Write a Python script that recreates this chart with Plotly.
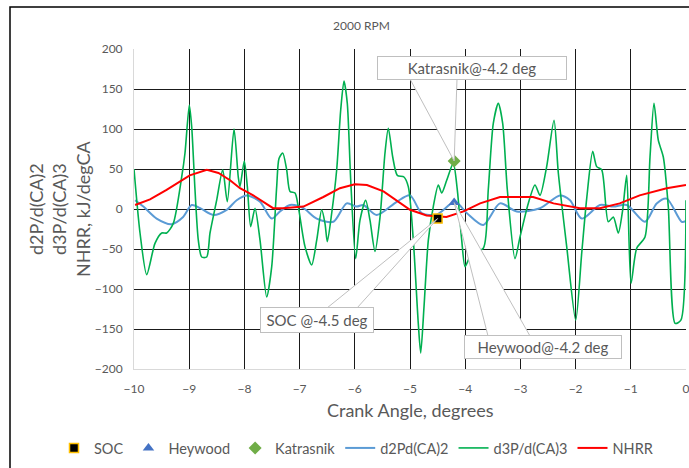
import plotly.graph_objects as go

# ---------------- data ----------------
GREEN_X = [-10.0, -9.891, -9.77, -9.62, -9.498, -9.408, -9.288, -9.136, -9.076, -8.998, -8.955,
           -8.895, -8.835, -8.774, -8.683, -8.623, -8.502, -8.393, -8.31, -8.188, -8.111, -8.08,
           -8.002, -7.947, -7.886, -7.808, -7.717, -7.596, -7.505, -7.415, -7.373, -7.306, -7.234,
           -7.174, -7.083, -7.024, -6.902, -6.781, -6.69, -6.6, -6.54, -6.498, -6.418, -6.328,
           -6.255, -6.196, -6.136, -6.074, -5.984, -5.906, -5.803, -5.725, -5.634, -5.543, -5.453,
           -5.393, -5.313, -5.23, -5.109, -5.031, -4.94, -4.85, -4.806, -4.746, -4.668, -4.578,
           -4.487, -4.426, -4.335, -4.216, -4.143, -4.063, -4.004, -3.944, -3.882, -3.672, -3.582,
           -3.491, -3.4, -3.321, -3.237, -3.098, -3.007, -2.857, -2.736, -2.645, -2.524, -2.391,
           -2.313, -2.161, -1.998, -1.889, -1.799, -1.69, -1.618, -1.527, -1.408, -1.317, -1.226,
           -1.147, -1.074, -0.996, -0.893, -0.743, -0.652, -0.58, -0.502, -0.411, -0.321, -0.196,
           -0.093, 0.0]
GREEN_Y = [50, -30, -82, -43, -30, -30, -18, 40, 70, 130, 103,
           24, -39, -60, -60, -30, 11, 49, 9, 100, 40, 28,
           60, 28, -22, 1, -39, -110, -72, 28, 63, 70, 49,
           22, 20, 3, -47, -70, -39, -1, -18, -41, -5, 49,
           124, 160, 132, 36, -62, -14, 11, -14, -53, -10, 70,
           101, 65, 42, 40, 28, -39, -143, -180, -122, -39, 3,
           30, 20, 36, 57, 24, -39, -72, -64, -55, -49, 24,
           107, 132, 107, 24, -62, -35, 7, 30, 17, 53, 111,
           45, -47, -139, -55, 13, 72, 53, 49, -16, -10, -30,
           -1, 42, -93, -49, -35, 65, 132, 86, 65, 3, -143,
           -139, 11]

BLUE_X = [-9.98, -9.83, -9.59, -9.32, -9.11, -8.955, -8.8, -8.563, -8.321, -8.14, -7.958, -7.717,
          -7.505, -7.355, -7.174, -6.933, -6.69, -6.389, -6.147, -5.966, -5.846, -5.603, -5.241,
          -5.0, -4.788, -4.516, -4.185, -3.973, -3.672, -3.37, -3.067, -2.645, -2.283, -2.101,
          -1.889, -1.558, -1.317, -1.074, -0.743, -0.531, -0.35, -0.078, 0.0]
BLUE_Y = [11, 3, -12, -19, -10, 5, 1, -7.5, -1, 11, 17, 9,
          -12, -3, 5, 1, -12, -16, 7, 3, 5, -7.5, 9,
          17, -5, -7, 9, -5, -20, 7, -3, 1, 17, 11,
          -12, 5, 3, 5, -16, 7, 13, -16, -15]

RED_X = [-9.98, -9.71, -9.41, -9.17, -8.99, -8.68, -8.47, -8.26, -8.08, -7.84, -7.66, -7.48,
         -7.3, -6.93, -6.57, -6.27, -6.0, -5.78, -5.48, -5.18, -5.0, -4.7, -4.34, -4.03,
         -3.73, -3.37, -2.77, -2.4, -1.92, -1.56, -1.2, -0.84, -0.35, 0.0]
RED_Y = [5, 12, 24, 34, 42, 49, 45, 36, 26, 17, 9, 1,
         1, 3, 15, 26, 31, 30, 22, 7, -1, -8, -10, -3,
         7, 15, 15, 7, 1, 1, 7, 17, 26, 30]

SOC_X = [-4.5]
SOC_Y = [-12]
HEYWOOD_X = [-4.2]
HEYWOOD_Y = [8]
KATRASNIK_X = [-4.2]
KATRASNIK_Y = [60]

X_TICKS = [-10, -9, -8, -7, -6, -5, -4, -3, -2, -1, 0]
Y_TICKS = [-200, -150, -100, -50, 0, 50, 100, 150, 200]

TITLE = "2000 RPM"
X_TITLE = "Crank Angle, degrees"
Y_TITLE = "d2P/d(CA)2<br>d3P/d(CA)3<br>NHRR, kJ/degCA"
SOC_LABEL = "SOC @-4.5 deg"
HEY_LABEL = "Heywood@-4.2 deg"
KAT_LABEL = "Katrasnik@-4.2 deg"

# ---------------- layout geometry (pixels) ----------------
W, H = 689, 468
L, R, T, B = 134, 3, 49, 99
PW, PH = W - L - R, H - T - B
FONT = "Lato"
GRAY = "#595959"


def px2x(px):
    return X_TICKS[0] + (px - L) / PW * (X_TICKS[-1] - X_TICKS[0])


def py2y(py):
    return Y_TICKS[-1] - (py - T) / PH * (Y_TICKS[-1] - Y_TICKS[0])


def pxp(px):
    return (px - L) / PW


def pyp(py):
    return (H - B - py) / PH


fig = go.Figure()

fig.add_trace(go.Scatter(x=BLUE_X, y=BLUE_Y, mode="lines", name="d2Pd(CA)2",
                         line=dict(color="#5B9BD5", width=2, shape="spline", smoothing=0.8),
                         legendrank=4))
fig.add_trace(go.Scatter(x=GREEN_X, y=GREEN_Y, mode="lines", name="d3P/d(CA)3",
                         line=dict(color="#00B050", width=1.6, shape="spline", smoothing=0.7),
                         legendrank=5))
fig.add_trace(go.Scatter(x=RED_X, y=RED_Y, mode="lines", name="NHRR",
                         line=dict(color="#FF0000", width=2), legendrank=6))
fig.add_trace(go.Scatter(x=SOC_X, y=SOC_Y, mode="markers", name="SOC",
                         marker=dict(symbol="square", size=9, color="#000000",
                                     line=dict(color="#FFC000", width=1.5)), legendrank=1))
fig.add_trace(go.Scatter(x=HEYWOOD_X, y=HEYWOOD_Y, mode="markers", name="Heywood",
                         marker=dict(symbol="triangle-up", size=10, color="#4472C4"),
                         legendrank=2))
fig.add_trace(go.Scatter(x=KATRASNIK_X, y=KATRASNIK_Y, mode="markers", name="Katrasnik",
                         marker=dict(symbol="diamond", size=10, color="#70AD47"),
                         legendrank=3))

shapes = []
# outer chart border
shapes.append(dict(type="rect", xref="paper", yref="paper",
                   x0=pxp(10), x1=pxp(700), y0=pyp(480), y1=pyp(7),
                   line=dict(color="#000000", width=1.5), layer="below"))


def wedge(tipx, tipy, bx0, bx1, by):
    path = "M {},{} L {},{} L {},{} Z".format(px2x(bx0), py2y(by), tipx, tipy,
                                               px2x(bx1), py2y(by))
    return dict(type="path", xref="x", yref="y", path=path,
                fillcolor="white", line=dict(color="#BFBFBF", width=1), layer="above")


shapes.append(wedge(KATRASNIK_X[0], KATRASNIK_Y[0], 410, 457, 79))
shapes.append(wedge(SOC_X[0], SOC_Y[0], 327, 357, 308))
shapes.append(wedge(HEYWOOD_X[0], HEYWOOD_Y[0], 488, 530, 336))

annotations = [
    dict(text=TITLE, xref="paper", yref="paper", x=pxp(361), y=pyp(25), showarrow=False,
         xanchor="center", yanchor="middle",
         font=dict(family=FONT, size=12, color=GRAY)),
    dict(text=X_TITLE, xref="paper", yref="paper", x=pxp(410), y=pyp(410), showarrow=False,
         xanchor="center", yanchor="middle",
         font=dict(family=FONT, size=18, color=GRAY)),
    dict(text=Y_TITLE, xref="paper", yref="paper", x=pxp(59), y=pyp(209), showarrow=False,
         xanchor="center", yanchor="middle",
         textangle=-90, font=dict(family=FONT, size=18, color=GRAY)),
]


def callout(text, cx, cy, w, h):
    return dict(text=text, xref="paper", yref="paper", x=pxp(cx), y=pyp(cy), showarrow=False,
                xanchor="center", yanchor="middle",
                width=w, height=h, bgcolor="white", bordercolor="#BFBFBF", borderwidth=1,
                borderpad=1, align="center", valign="middle",
                font=dict(family=FONT, size=15, color=GRAY))


annotations.append(callout(KAT_LABEL, 472, 68, 186, 20))
annotations.append(callout(SOC_LABEL, 317, 320, 110, 22))
annotations.append(callout(HEY_LABEL, 543, 347, 154, 20))

fig.update_layout(
    width=W, height=H,
    margin=dict(l=L, r=R, t=T, b=B, autoexpand=False),
    paper_bgcolor="white", plot_bgcolor="white",
    font=dict(family=FONT, color=GRAY),
    showlegend=True,
    legend=dict(orientation="h", x=pxp(54), xanchor="left", y=pyp(448), yanchor="middle",
                font=dict(family=FONT, size=14.5, color=GRAY), itemwidth=30,
                bgcolor="rgba(0,0,0,0)"),
    shapes=shapes,
    annotations=annotations,
    xaxis=dict(range=[X_TICKS[0], X_TICKS[-1]], tickvals=X_TICKS, showgrid=True,
               gridcolor="#1a1a1a", gridwidth=1, zeroline=False, showline=True,
               linecolor="#D9D9D9", linewidth=1, ticks="outside", ticklen=9,
               tickcolor="rgba(0,0,0,0)", ticklabeloverflow="allow",
               tickfont=dict(family=FONT, size=12, color=GRAY)),
    yaxis=dict(range=[Y_TICKS[0], Y_TICKS[-1]], tickvals=Y_TICKS, showgrid=True,
               gridcolor="#1a1a1a", gridwidth=1, zeroline=False, showline=True,
               linecolor="#D9D9D9", linewidth=1, ticks="outside", ticklen=8,
               tickcolor="rgba(0,0,0,0)",
               tickfont=dict(family=FONT, size=12, color=GRAY)),
)

fig.write_html("out.html")
